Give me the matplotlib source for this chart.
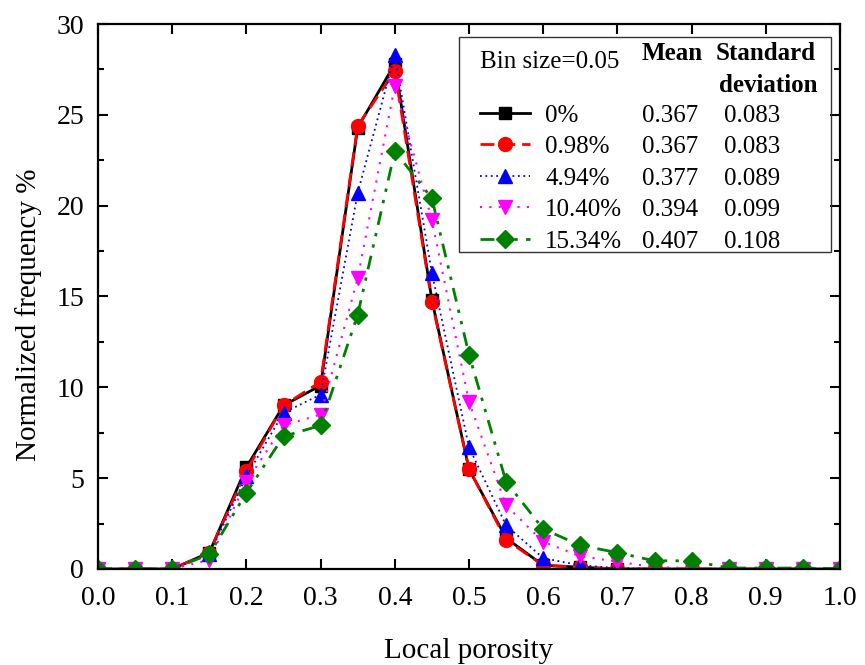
import matplotlib
matplotlib.use('Agg')
import matplotlib.pyplot as plt
from matplotlib.patches import Rectangle

plt.rcParams['font.family'] = 'serif'
plt.rcParams['font.serif'] = ['Liberation Serif', 'DejaVu Serif']
plt.rcParams['font.size'] = 18

porosity = [0.0, 0.05, 0.1, 0.15, 0.2, 0.25, 0.3, 0.35, 0.4, 0.45, 0.5,
            0.55, 0.6, 0.65, 0.7, 0.75, 0.8, 0.85, 0.9, 0.95, 1.0]

freq_0 = [0, 0, 0, 0.9, 5.6, 9.0, 10.1, 24.3, 27.8, 14.8, 5.5,
          1.7, 0.2, 0.1, 0, 0, 0, 0, 0, 0, 0]
freq_098 = [0, 0, 0, 0.9, 5.4, 9.0, 10.3, 24.4, 27.4, 14.7, 5.5,
            1.6, 0.2, 0.1, 0, 0, 0, 0, 0, 0, 0]
freq_494 = [0, 0, 0, 0.8, 5.1, 8.6, 9.6, 20.7, 28.3, 16.3, 6.7,
            2.4, 0.6, 0.2, 0.05, 0, 0, 0, 0, 0, 0]
freq_1040 = [0, 0, 0, 0.5, 4.8, 7.9, 8.5, 16.0, 26.6, 19.2, 9.2,
             3.5, 1.5, 0.7, 0.4, 0.1, 0.05, 0, 0, 0, 0]
freq_1534 = [0, 0, 0, 0.8, 4.2, 7.3, 7.9, 14.0, 23.0, 20.4, 11.8,
             4.8, 2.2, 1.3, 0.9, 0.45, 0.45, 0.05, 0.05, 0.05, 0]

labels = ['0%', '0.98%', '4.94%', '10.40%', '15.34%']
means = ['0.367', '0.367', '0.377', '0.394', '0.407']
stds = ['0.083', '0.083', '0.089', '0.099', '0.108']

fig = plt.figure(figsize=(8.65, 6.65), dpi=100)
ax = fig.add_axes([0.1133, 0.1444, 0.8578, 0.8195])

handles = []
h, = ax.plot(porosity, freq_0, color='black', ls='-', lw=2, marker='s', ms=8.5)
handles.append(h)
h, = ax.plot(porosity, freq_098, color='red', ls=(0, (5, 2.5)), lw=2, marker='o', ms=10)
handles.append(h)
h, = ax.plot(porosity, freq_494, color='blue', ls=(0, (1, 2)), lw=1.3, marker='^', ms=10)
handles.append(h)
h, = ax.plot(porosity, freq_1040, color='magenta', ls=(0, (1, 3.5)), lw=1.5, marker='v', ms=10)
handles.append(h)
h, = ax.plot(porosity, freq_1534, color='green', ls=(0, (5, 3, 1.2, 3, 1.2, 3)), lw=2, marker='D', ms=9)
handles.append(h)

ax.set_xlim(0, 1.0)
ax.set_ylim(0, 30)
ax.set_xticks([i / 10 for i in range(11)])
ax.set_xticklabels(['%.1f' % (i / 10) for i in range(11)])
ax.set_yticks(range(0, 31, 5))
ax.set_yticks([2.5 + 5 * i for i in range(6)], minor=True)
ax.tick_params(which='both', direction='in', top=True, right=True, labelsize=20, width=1.5)
ax.tick_params(which='major', length=7)
ax.tick_params(axis='x', which='major', pad=12)
ax.tick_params(axis='y', which='major', pad=10)
ax.tick_params(which='minor', length=4)
for s in ax.spines.values():
    s.set_linewidth(1.6)

ax.set_xlabel('Local porosity', fontsize=21, labelpad=20)
ax.set_ylabel('Normalized frequency %', fontsize=21)
ax.yaxis.set_label_coords(-0.076, 0.466)

# table-like legend
ax.add_patch(Rectangle((0.487, 0.582), 0.501, 0.394, transform=ax.transAxes,
                       fill=False, lw=1.0, ec='#333333', zorder=5))
leg = ax.legend(handles, labels, loc='upper left', bbox_to_anchor=(0.515, 0.853),
                frameon=False, borderpad=0, borderaxespad=0, handlelength=2.0,
                handletextpad=0.6, labelspacing=0.36, fontsize=18)
ax.text(0.515, 0.93, 'Bin size=0.05', transform=ax.transAxes, fontsize=18, va='center')
ax.text(0.733, 0.945, 'Mean', transform=ax.transAxes, fontsize=18, va='center', fontweight='bold')
ax.text(0.833, 0.945, 'Standard', transform=ax.transAxes, fontsize=18, va='center', fontweight='bold')
ax.text(0.837, 0.888, 'deviation', transform=ax.transAxes, fontsize=18, va='center', fontweight='bold')

fig.canvas.draw()
inv = ax.transAxes.inverted()
for t, m, sd in zip(leg.get_texts(), means, stds):
    bb = t.get_window_extent()
    yc = inv.transform((0, (bb.y0 + bb.y1) / 2))[1]
    ax.text(0.733, yc, m, transform=ax.transAxes, fontsize=18, va='center')
    ax.text(0.844, yc, sd, transform=ax.transAxes, fontsize=18, va='center')

fig.savefig('out.png', dpi=100)
